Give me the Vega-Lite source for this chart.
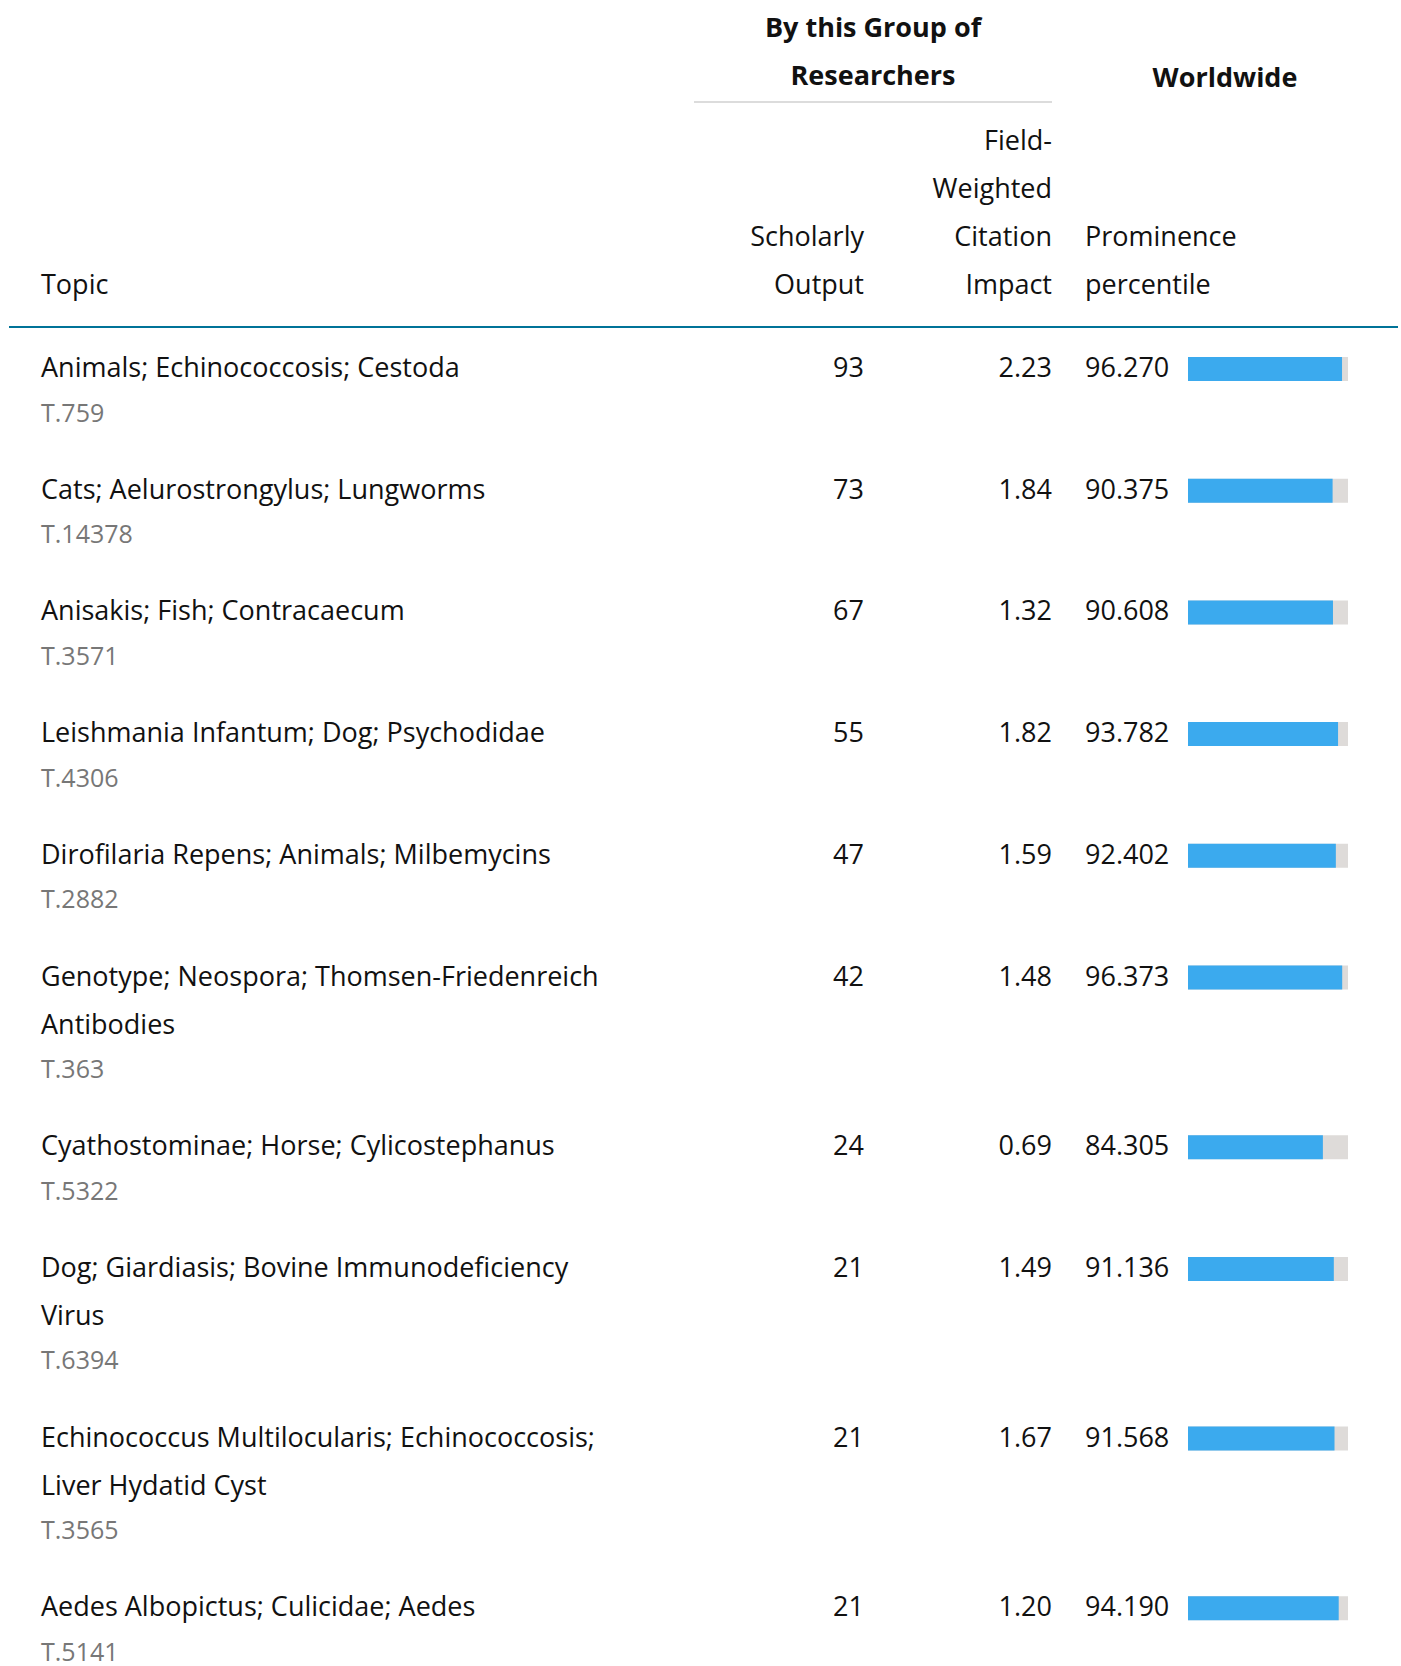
{
  "$schema": "https://vega.github.io/schema/vega-lite/v6.json",
  "width": 1401,
  "height": 1666,
  "padding": 0,
  "config": {
    "view": {"stroke": null},
    "text": {"font": "Open Sans", "fontSize": 27, "color": "#111111", "baseline": "alphabetic"}
  },
  "datasets": {
    "topics": [
      {"rank": 1, "topic": "Animals; Echinococcosis; Cestoda", "code": "T.759", "output": 93, "fwci": 2.23, "pct": 96.270},
      {"rank": 2, "topic": "Cats; Aelurostrongylus; Lungworms", "code": "T.14378", "output": 73, "fwci": 1.84, "pct": 90.375},
      {"rank": 3, "topic": "Anisakis; Fish; Contracaecum", "code": "T.3571", "output": 67, "fwci": 1.32, "pct": 90.608},
      {"rank": 4, "topic": "Leishmania Infantum; Dog; Psychodidae", "code": "T.4306", "output": 55, "fwci": 1.82, "pct": 93.782},
      {"rank": 5, "topic": "Dirofilaria Repens; Animals; Milbemycins", "code": "T.2882", "output": 47, "fwci": 1.59, "pct": 92.402},
      {"rank": 6, "topic": "Genotype; Neospora; Thomsen-Friedenreich\nAntibodies", "code": "T.363", "output": 42, "fwci": 1.48, "pct": 96.373},
      {"rank": 7, "topic": "Cyathostominae; Horse; Cylicostephanus", "code": "T.5322", "output": 24, "fwci": 0.69, "pct": 84.305},
      {"rank": 8, "topic": "Dog; Giardiasis; Bovine Immunodeficiency\nVirus", "code": "T.6394", "output": 21, "fwci": 1.49, "pct": 91.136},
      {"rank": 9, "topic": "Echinococcus Multilocularis; Echinococcosis;\nLiver Hydatid Cyst", "code": "T.3565", "output": 21, "fwci": 1.67, "pct": 91.568},
      {"rank": 10, "topic": "Aedes Albopictus; Culicidae; Aedes", "code": "T.5141", "output": 21, "fwci": 1.20, "pct": 94.190}
    ]
  },
  "layer": [
    {
      "data": {"name": "topics"},
      "transform": [
        {"calculate": "indexof(datum.topic, '\\n') >= 0 ? 2 : 1", "as": "lines"},
        {"window": [{"op": "sum", "field": "lines", "as": "cumLines"}], "sort": [{"field": "rank", "order": "ascending"}]},
        {"calculate": "377 + 73.7 * (datum.rank - 1) + 48 * (datum.cumLines - datum.lines)", "as": "base"},
        {"calculate": "datum.base + 48 * (datum.lines - 1) + 44.5", "as": "codeBase"},
        {"calculate": "datum.base - 20", "as": "barTop"},
        {"calculate": "datum.base + 4", "as": "barBottom"},
        {"calculate": "1188", "as": "barStart"},
        {"calculate": "1348", "as": "barFull"},
        {"calculate": "1188 + 1.6 * datum.pct", "as": "barEnd"},
        {"calculate": "41", "as": "xTopic"},
        {"calculate": "864", "as": "xOutput"},
        {"calculate": "1052", "as": "xFwci"},
        {"calculate": "1085", "as": "xPct"}
      ],
      "layer": [
        {
          "mark": {"type": "rect", "color": "#dedbd9"},
          "encoding": {
            "x": {"field": "barStart", "type": "quantitative", "scale": {"domain": [0, 1401], "nice": false, "zero": false}, "axis": null},
            "x2": {"field": "barFull"},
            "y": {"field": "barTop", "type": "quantitative", "scale": {"domain": [0, 1666], "nice": false, "zero": false, "reverse": true}, "axis": null},
            "y2": {"field": "barBottom"}
          }
        },
        {
          "mark": {"type": "rect", "color": "#3baaee"},
          "encoding": {
            "x": {"field": "barStart", "type": "quantitative", "scale": {"domain": [0, 1401], "nice": false, "zero": false}, "axis": null},
            "x2": {"field": "barEnd"},
            "y": {"field": "barTop", "type": "quantitative", "scale": {"domain": [0, 1666], "nice": false, "zero": false, "reverse": true}, "axis": null},
            "y2": {"field": "barBottom"}
          }
        },
        {
          "mark": {"type": "text", "align": "left", "lineBreak": "\n", "lineHeight": 48},
          "encoding": {
            "x": {"field": "xTopic", "type": "quantitative", "scale": {"domain": [0, 1401], "nice": false, "zero": false}, "axis": null},
            "y": {"field": "base", "type": "quantitative", "scale": {"domain": [0, 1666], "nice": false, "zero": false, "reverse": true}, "axis": null},
            "text": {"field": "topic", "type": "nominal"}
          }
        },
        {
          "mark": {"type": "text", "align": "left", "fontSize": 25, "color": "#777777"},
          "encoding": {
            "x": {"field": "xTopic", "type": "quantitative", "scale": {"domain": [0, 1401], "nice": false, "zero": false}, "axis": null},
            "y": {"field": "codeBase", "type": "quantitative", "scale": {"domain": [0, 1666], "nice": false, "zero": false, "reverse": true}, "axis": null},
            "text": {"field": "code", "type": "nominal"}
          }
        },
        {
          "mark": {"type": "text", "align": "right"},
          "encoding": {
            "x": {"field": "xOutput", "type": "quantitative", "scale": {"domain": [0, 1401], "nice": false, "zero": false}, "axis": null},
            "y": {"field": "base", "type": "quantitative", "scale": {"domain": [0, 1666], "nice": false, "zero": false, "reverse": true}, "axis": null},
            "text": {"field": "output", "type": "quantitative", "format": "d"}
          }
        },
        {
          "mark": {"type": "text", "align": "right"},
          "encoding": {
            "x": {"field": "xFwci", "type": "quantitative", "scale": {"domain": [0, 1401], "nice": false, "zero": false}, "axis": null},
            "y": {"field": "base", "type": "quantitative", "scale": {"domain": [0, 1666], "nice": false, "zero": false, "reverse": true}, "axis": null},
            "text": {"field": "fwci", "type": "quantitative", "format": ".2f"}
          }
        },
        {
          "mark": {"type": "text", "align": "left"},
          "encoding": {
            "x": {"field": "xPct", "type": "quantitative", "scale": {"domain": [0, 1401], "nice": false, "zero": false}, "axis": null},
            "y": {"field": "base", "type": "quantitative", "scale": {"domain": [0, 1666], "nice": false, "zero": false, "reverse": true}, "axis": null},
            "text": {"field": "pct", "type": "quantitative", "format": ".3f"}
          }
        }
      ]
    },
    {
      "data": {"values": [{}]},
      "transform": [
        {"calculate": "873", "as": "gx"}, {"calculate": "37", "as": "gy"},
        {"calculate": "1225", "as": "wx"}, {"calculate": "87", "as": "wy"},
        {"calculate": "694", "as": "r1x"}, {"calculate": "1052", "as": "r1x2"}, {"calculate": "102", "as": "r1y"},
        {"calculate": "1052", "as": "fx"}, {"calculate": "150", "as": "fy"},
        {"calculate": "864", "as": "sx"}, {"calculate": "246", "as": "sy"},
        {"calculate": "1085", "as": "px"},
        {"calculate": "41", "as": "tx"}, {"calculate": "294", "as": "ty"},
        {"calculate": "9", "as": "r2x"}, {"calculate": "1398", "as": "r2x2"}, {"calculate": "327", "as": "r2y"}
      ],
      "layer": [
        {
          "mark": {"type": "text", "text": ["By this Group of", "Researchers"], "fontWeight": "bold", "align": "center", "lineHeight": 48},
          "encoding": {
            "x": {"field": "gx", "type": "quantitative", "scale": {"domain": [0, 1401], "nice": false, "zero": false}, "axis": null},
            "y": {"field": "gy", "type": "quantitative", "scale": {"domain": [0, 1666], "nice": false, "zero": false, "reverse": true}, "axis": null}
          }
        },
        {
          "mark": {"type": "text", "text": "Worldwide", "fontWeight": "bold", "align": "center"},
          "encoding": {
            "x": {"field": "wx", "type": "quantitative", "scale": {"domain": [0, 1401], "nice": false, "zero": false}, "axis": null},
            "y": {"field": "wy", "type": "quantitative", "scale": {"domain": [0, 1666], "nice": false, "zero": false, "reverse": true}, "axis": null}
          }
        },
        {
          "mark": {"type": "rule", "color": "#dcdcdc", "strokeWidth": 2},
          "encoding": {
            "x": {"field": "r1x", "type": "quantitative", "scale": {"domain": [0, 1401], "nice": false, "zero": false}, "axis": null},
            "x2": {"field": "r1x2"},
            "y": {"field": "r1y", "type": "quantitative", "scale": {"domain": [0, 1666], "nice": false, "zero": false, "reverse": true}, "axis": null}
          }
        },
        {
          "mark": {"type": "text", "text": ["Field-", "Weighted", "Citation", "Impact"], "align": "right", "lineHeight": 48},
          "encoding": {
            "x": {"field": "fx", "type": "quantitative", "scale": {"domain": [0, 1401], "nice": false, "zero": false}, "axis": null},
            "y": {"field": "fy", "type": "quantitative", "scale": {"domain": [0, 1666], "nice": false, "zero": false, "reverse": true}, "axis": null}
          }
        },
        {
          "mark": {"type": "text", "text": ["Scholarly", "Output"], "align": "right", "lineHeight": 48},
          "encoding": {
            "x": {"field": "sx", "type": "quantitative", "scale": {"domain": [0, 1401], "nice": false, "zero": false}, "axis": null},
            "y": {"field": "sy", "type": "quantitative", "scale": {"domain": [0, 1666], "nice": false, "zero": false, "reverse": true}, "axis": null}
          }
        },
        {
          "mark": {"type": "text", "text": ["Prominence", "percentile"], "align": "left", "lineHeight": 48},
          "encoding": {
            "x": {"field": "px", "type": "quantitative", "scale": {"domain": [0, 1401], "nice": false, "zero": false}, "axis": null},
            "y": {"field": "sy", "type": "quantitative", "scale": {"domain": [0, 1666], "nice": false, "zero": false, "reverse": true}, "axis": null}
          }
        },
        {
          "mark": {"type": "text", "text": "Topic", "align": "left"},
          "encoding": {
            "x": {"field": "tx", "type": "quantitative", "scale": {"domain": [0, 1401], "nice": false, "zero": false}, "axis": null},
            "y": {"field": "ty", "type": "quantitative", "scale": {"domain": [0, 1666], "nice": false, "zero": false, "reverse": true}, "axis": null}
          }
        },
        {
          "mark": {"type": "rule", "color": "#007398", "strokeWidth": 2},
          "encoding": {
            "x": {"field": "r2x", "type": "quantitative", "scale": {"domain": [0, 1401], "nice": false, "zero": false}, "axis": null},
            "x2": {"field": "r2x2"},
            "y": {"field": "r2y", "type": "quantitative", "scale": {"domain": [0, 1666], "nice": false, "zero": false, "reverse": true}, "axis": null}
          }
        }
      ]
    }
  ]
}
